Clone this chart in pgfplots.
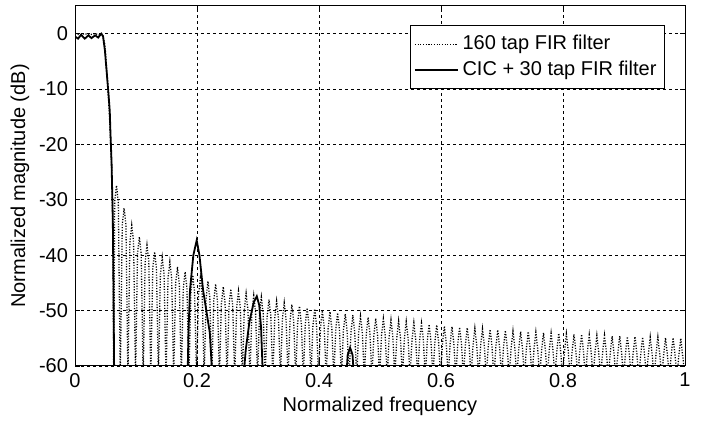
\documentclass[border=0pt]{standalone}
\usepackage{fontspec}
\setmainfont{Liberation Sans}
\usepackage{pgfplots}
\pgfplotsset{compat=1.18}

\begin{document}
\fontsize{10}{12}\selectfont
\begin{tikzpicture}
\begin{axis}[
    at={(0,0)}, anchor=south west,
    scale only axis,
    width=305pt, height=180pt,
    xmin=0, xmax=1, ymin=-60, ymax=5,
    xtick={0,0.2,0.4,0.6,0.8,1},
    ytick={-60,-50,-40,-30,-20,-10,0},
    xticklabels={0,0.2,0.4,0.6,0.8,1},
    /pgf/number format/assume math mode=true,
    tick label style={font=\fontsize{10}{12}\selectfont},
    label style={font=\fontsize{10}{12}\selectfont},
    xlabel={Normalized frequency},
    ylabel={Normalized magnitude (dB)},
    xlabel style={yshift=2pt},
    ylabel style={yshift=-2pt},
    grid=major,
    major grid style={black, line width=0.35pt, dash pattern=on 1.5pt off 1.5pt},
    axis line style={black, line width=0.5pt},
    tick style={black, line width=0.4pt},
    major tick length=2.5pt,
    tick align=inside,
    legend style={at={(0.967,0.947)}, anchor=north east, draw=black, fill=white,
        line width=0.4pt, font=\fontsize{10}{12}\selectfont,
        inner xsep=2pt, inner ysep=3pt, row sep=0pt, cells={anchor=west}},
    legend image code/.code={\draw[#1] (0cm,0cm) -- (0.75cm,0cm);},
]
\addplot[black, line width=0.65pt, dash pattern=on 0.55pt off 0.8pt] coordinates {
(0,0)(0.008,-0.2)(0.016,0)(0.024,-0.2)(0.032,0)(0.04,-0.2)(0.045,0)
(0.049,-2)(0.053,-8)(0.057,-16)(0.06,-24)(0.062,-35)(0.0635,-62)
(.0650,-30.4)(.0680,-27.4)(.0710,-30.4)(.07425,-62)
(.0775,-34.5)(.0805,-31.5)(.0835,-34.5)(.08675,-62)
(.0900,-37.6)(.0930,-34.6)(.0960,-37.6)(.09925,-62)
(.1025,-39.7)(.1055,-36.7)(.1085,-39.7)(.11175,-62)
(.1150,-41.2)(.1180,-38.2)(.1210,-41.2)(.12425,-62)
(.1275,-42.4)(.1305,-39.4)(.1335,-42.4)(.13675,-62)
(.1400,-43.4)(.1430,-40.4)(.1460,-43.4)(.14925,-62)
(.1525,-44.2)(.1555,-41.2)(.1585,-44.2)(.16175,-62)
(.1650,-45.1)(.1680,-42.1)(.1710,-45.1)(.17425,-62)
(.1775,-46.0)(.1805,-43.0)(.1835,-46.0)(.18675,-62)
(.1900,-46.6)(.1930,-43.6)(.1960,-46.6)(.19925,-62)
(.2025,-47.1)(.2055,-44.1)(.2085,-47.1)(.21175,-62)
(.2150,-47.7)(.2180,-44.7)(.2210,-47.7)(.22425,-62)
(.2275,-48.2)(.2305,-45.2)(.2335,-48.2)(.23675,-62)
(.2400,-48.7)(.2430,-45.7)(.2460,-48.7)(.24925,-62)
(.2525,-49.1)(.2555,-46.1)(.2585,-49.1)(.26175,-62)
(.2650,-49.5)(.2680,-46.5)(.2710,-49.5)(.27425,-62)
(.2775,-49.9)(.2805,-46.9)(.2835,-49.9)(.28675,-62)
(.2900,-50.3)(.2930,-47.3)(.2960,-50.3)(.29925,-62)
(.3025,-50.6)(.3055,-47.6)(.3085,-50.6)(.31175,-62)
(.3150,-51.0)(.3180,-48.0)(.3210,-51.0)(.32425,-62)
(.3275,-51.3)(.3305,-48.3)(.3335,-51.3)(.33675,-62)
(.3400,-51.6)(.3430,-48.6)(.3460,-51.6)(.34925,-62)
(.3525,-51.9)(.3555,-48.9)(.3585,-51.9)(.36175,-62)
(.3650,-52.2)(.3680,-49.2)(.3710,-52.2)(.37425,-62)
(.3775,-52.5)(.3805,-49.5)(.3835,-52.5)(.38675,-62)
(.3900,-52.7)(.3930,-49.7)(.3960,-52.7)(.39925,-62)
(.4025,-53.0)(.4055,-50.0)(.4085,-53.0)(.41175,-62)
(.4150,-53.2)(.4180,-50.2)(.4210,-53.2)(.42425,-62)
(.4275,-53.4)(.4305,-50.4)(.4335,-53.4)(.43675,-62)
(.4400,-53.6)(.4430,-50.6)(.4460,-53.6)(.44925,-62)
(.4525,-53.8)(.4555,-50.8)(.4585,-53.8)(.46175,-62)
(.4650,-54.0)(.4680,-51.0)(.4710,-54.0)(.47425,-62)
(.4775,-54.2)(.4805,-51.2)(.4835,-54.2)(.48675,-62)
(.4900,-54.4)(.4930,-51.4)(.4960,-54.4)(.49925,-62)
(.5025,-54.5)(.5055,-51.5)(.5085,-54.5)(.51175,-62)
(.5150,-54.7)(.5180,-51.7)(.5210,-54.7)(.52425,-62)
(.5275,-54.9)(.5305,-51.9)(.5335,-54.9)(.53675,-62)
(.5400,-55.0)(.5430,-52.0)(.5460,-55.0)(.54925,-62)
(.5525,-55.2)(.5555,-52.2)(.5585,-55.2)(.56175,-62)
(.5650,-55.3)(.5680,-52.3)(.5710,-55.3)(.57425,-62)
(.5775,-55.5)(.5805,-52.5)(.5835,-55.5)(.58675,-62)
(.5900,-55.6)(.5930,-52.6)(.5960,-55.6)(.59925,-62)
(.6025,-55.8)(.6055,-52.8)(.6085,-55.8)(.61175,-62)
(.6150,-55.9)(.6180,-52.9)(.6210,-55.9)(.62425,-62)
(.6275,-56.0)(.6305,-53.0)(.6335,-56.0)(.63675,-62)
(.6400,-56.1)(.6430,-53.1)(.6460,-56.1)(.64925,-62)
(.6525,-56.2)(.6555,-53.2)(.6585,-56.2)(.66175,-62)
(.6650,-56.3)(.6680,-53.3)(.6710,-56.3)(.67425,-62)
(.6775,-56.4)(.6805,-53.4)(.6835,-56.4)(.68675,-62)
(.6900,-56.5)(.6930,-53.5)(.6960,-56.5)(.69925,-62)
(.7025,-56.6)(.7055,-53.6)(.7085,-56.6)(.71175,-62)
(.7150,-56.7)(.7180,-53.7)(.7210,-56.7)(.72425,-62)
(.7275,-56.8)(.7305,-53.8)(.7335,-56.8)(.73675,-62)
(.7400,-56.8)(.7430,-53.8)(.7460,-56.8)(.74925,-62)
(.7525,-56.9)(.7555,-53.9)(.7585,-56.9)(.76175,-62)
(.7650,-57.0)(.7680,-54.0)(.7710,-57.0)(.77425,-62)
(.7775,-57.1)(.7805,-54.1)(.7835,-57.1)(.78675,-62)
(.7900,-57.1)(.7930,-54.1)(.7960,-57.1)(.79925,-62)
(.8025,-57.2)(.8055,-54.2)(.8085,-57.2)(.81175,-62)
(.8150,-57.3)(.8180,-54.3)(.8210,-57.3)(.82425,-62)
(.8275,-57.3)(.8305,-54.3)(.8335,-57.3)(.83675,-62)
(.8400,-57.4)(.8430,-54.4)(.8460,-57.4)(.84925,-62)
(.8525,-57.5)(.8555,-54.5)(.8585,-57.5)(.86175,-62)
(.8650,-57.5)(.8680,-54.5)(.8710,-57.5)(.87425,-62)
(.8775,-57.6)(.8805,-54.6)(.8835,-57.6)(.88675,-62)
(.8900,-57.6)(.8930,-54.6)(.8960,-57.6)(.89925,-62)
(.9025,-57.7)(.9055,-54.7)(.9085,-57.7)(.91175,-62)
(.9150,-57.7)(.9180,-54.7)(.9210,-57.7)(.92425,-62)
(.9275,-57.8)(.9305,-54.8)(.9335,-57.8)(.93675,-62)
(.9400,-57.8)(.9430,-54.8)(.9460,-57.8)(.94925,-62)
(.9525,-57.8)(.9555,-54.8)(.9585,-57.8)(.96175,-62)
(.9650,-57.9)(.9680,-54.9)(.9710,-57.9)(.97425,-62)
(.9775,-57.9)(.9805,-54.9)(.9835,-57.9)(.98675,-62)
(.9900,-58.0)(.9930,-55.0)(.9960,-58.0)(1,-62)
};
\addlegendentry{160 tap FIR filter}

\addplot[black, line width=0.9pt] coordinates {
(0,-0.5)(0.005,-0.9)(0.01,-0.2)(0.016,-0.9)(0.022,-0.3)(0.027,-0.8)(0.033,-0.3)(0.038,-0.7)(0.043,0)(0.046,-0.5)
(0.049,-3)(0.052,-7)(0.055,-11)(0.057,-14)(0.058,-17.5)(0.060,-23.5)(0.062,-33.7)(0.063,-45)(0.0645,-65)
(0.184,-65)(0.186,-54)(0.1885,-46.3)(0.194,-40)(0.1995,-37.3)(0.204,-40)(0.210,-46.3)(0.221,-54)(0.2267,-65)
(0.274,-65)(0.280,-57)(0.286,-52)(0.293,-48.5)(0.298,-47.4)(0.302,-49)(0.305,-53)(0.309,-65)
(0.443,-65)(0.447,-58)(0.451,-56.7)(0.455,-58)(0.459,-65)(1,-65)
};
\addlegendentry{CIC + 30 tap FIR filter}
\end{axis}
\path (-37.5pt,-27pt) rectangle (314.5pt,183pt);
\end{tikzpicture}
\end{document}
